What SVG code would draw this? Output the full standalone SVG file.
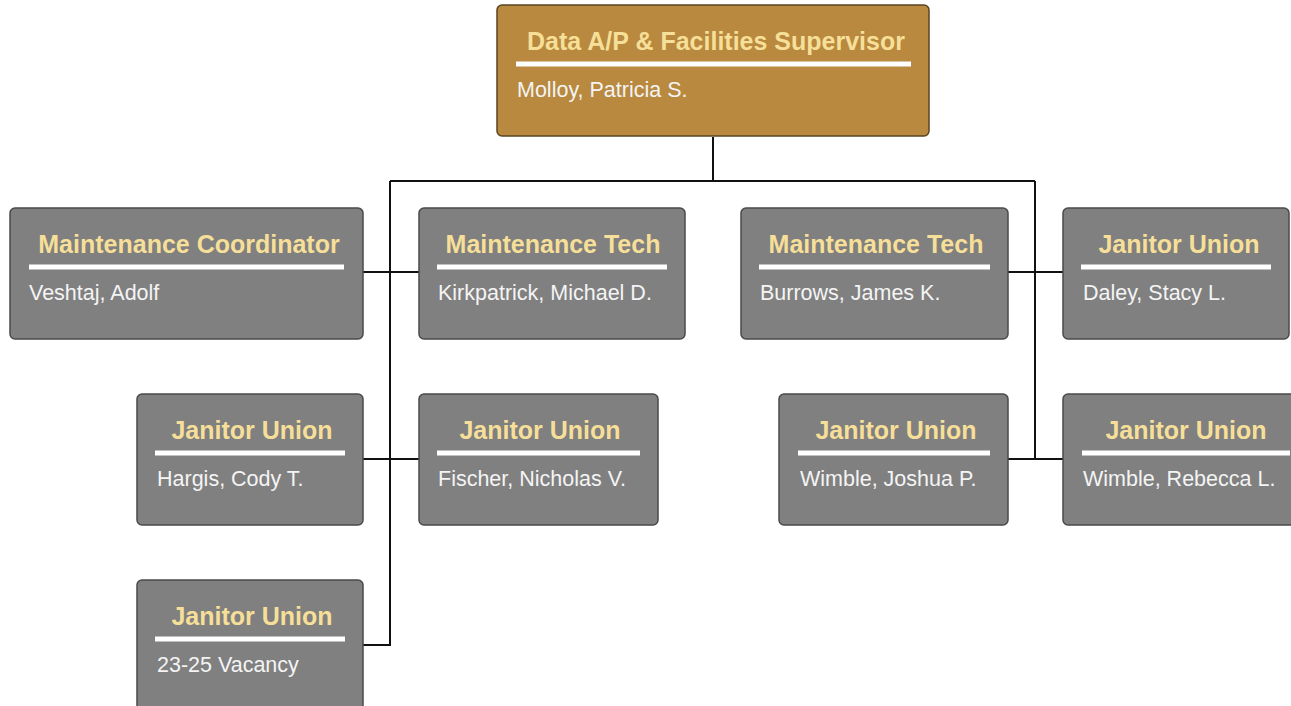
<svg xmlns="http://www.w3.org/2000/svg" width="1291" height="706" viewBox="0 0 1291 706">
<style>
.box{fill:#808080;stroke:#4a4a4a;stroke-width:1.5}
.top{fill:#B8893E;stroke:#5a4420;stroke-width:1.5}
.t{font-family:"Liberation Sans",Arial,sans-serif;font-weight:bold;font-size:25px;fill:#F6DF98;text-anchor:middle}
.n{font-family:"Liberation Sans",Arial,sans-serif;font-size:21.5px;fill:#F4F4F4}
.u{stroke:#FFFFFF;stroke-width:5}
.c{stroke:#111111;stroke-width:2;fill:none}
</style>
<rect width="1291" height="706" fill="#FFFFFF"/>
<g id="connectors">
<path class="c" d="M713 137V181M390 181H1035M390 181V645H363M363 272H419M363 459H419M1035 181V459M1008 272H1063M1008 459H1063"/>
</g>
<g id="n-supervisor">
<rect class="top" x="497" y="5" width="432" height="131" rx="5"/>
<text class="t" x="716" y="49.5">Data A/P &amp; Facilities Supervisor</text>
<line class="u" x1="516" y1="64" x2="911" y2="64"/>
<text class="n" x="517" y="97">Molloy, Patricia S.</text>
</g>
<g id="n-coordinator">
<rect class="box" x="10" y="208" width="353" height="131" rx="5"/>
<text class="t" x="189" y="252.5">Maintenance Coordinator</text>
<line class="u" x1="29" y1="267" x2="344" y2="267"/>
<text class="n" x="29" y="299.5">Veshtaj, Adolf</text>
</g>
<g id="n-kirkpatrick">
<rect class="box" x="419" y="208" width="266" height="131" rx="5"/>
<text class="t" x="553" y="252.5">Maintenance Tech</text>
<line class="u" x1="437" y1="267" x2="667" y2="267"/>
<text class="n" x="438" y="299.5">Kirkpatrick, Michael D.</text>
</g>
<g id="n-burrows">
<rect class="box" x="741" y="208" width="267" height="131" rx="5"/>
<text class="t" x="876" y="252.5">Maintenance Tech</text>
<line class="u" x1="759" y1="267" x2="990" y2="267"/>
<text class="n" x="760" y="299.5">Burrows, James K.</text>
</g>
<g id="n-daley">
<rect class="box" x="1063" y="208" width="226" height="131" rx="5"/>
<text class="t" x="1179" y="252.5">Janitor Union</text>
<line class="u" x1="1081" y1="267" x2="1271" y2="267"/>
<text class="n" x="1083" y="299.5">Daley, Stacy L.</text>
</g>
<g id="n-hargis">
<rect class="box" x="137" y="394" width="226" height="131" rx="5"/>
<text class="t" x="252" y="438.5">Janitor Union</text>
<line class="u" x1="155" y1="453" x2="345" y2="453"/>
<text class="n" x="157" y="485.5">Hargis, Cody T.</text>
</g>
<g id="n-fischer">
<rect class="box" x="419" y="394" width="239" height="131" rx="5"/>
<text class="t" x="540" y="438.5">Janitor Union</text>
<line class="u" x1="437" y1="453" x2="640" y2="453"/>
<text class="n" x="438" y="485.5">Fischer, Nicholas V.</text>
</g>
<g id="n-wimble-joshua">
<rect class="box" x="779" y="394" width="229" height="131" rx="5"/>
<text class="t" x="896" y="438.5">Janitor Union</text>
<line class="u" x1="798" y1="453" x2="990" y2="453"/>
<text class="n" x="800" y="485.5">Wimble, Joshua P.</text>
</g>
<g id="n-wimble-rebecca">
<rect class="box" x="1063" y="394" width="246" height="131" rx="5"/>
<text class="t" x="1186" y="438.5">Janitor Union</text>
<line class="u" x1="1082" y1="453" x2="1290" y2="453"/>
<text class="n" x="1083" y="485.5">Wimble, Rebecca L.</text>
</g>
<g id="n-vacancy">
<rect class="box" x="137" y="580" width="226" height="140" rx="5"/>
<text class="t" x="252" y="624.5">Janitor Union</text>
<line class="u" x1="155" y1="639" x2="345" y2="639"/>
<text class="n" x="157" y="671.5">23-25 Vacancy</text>
</g>
</svg>
